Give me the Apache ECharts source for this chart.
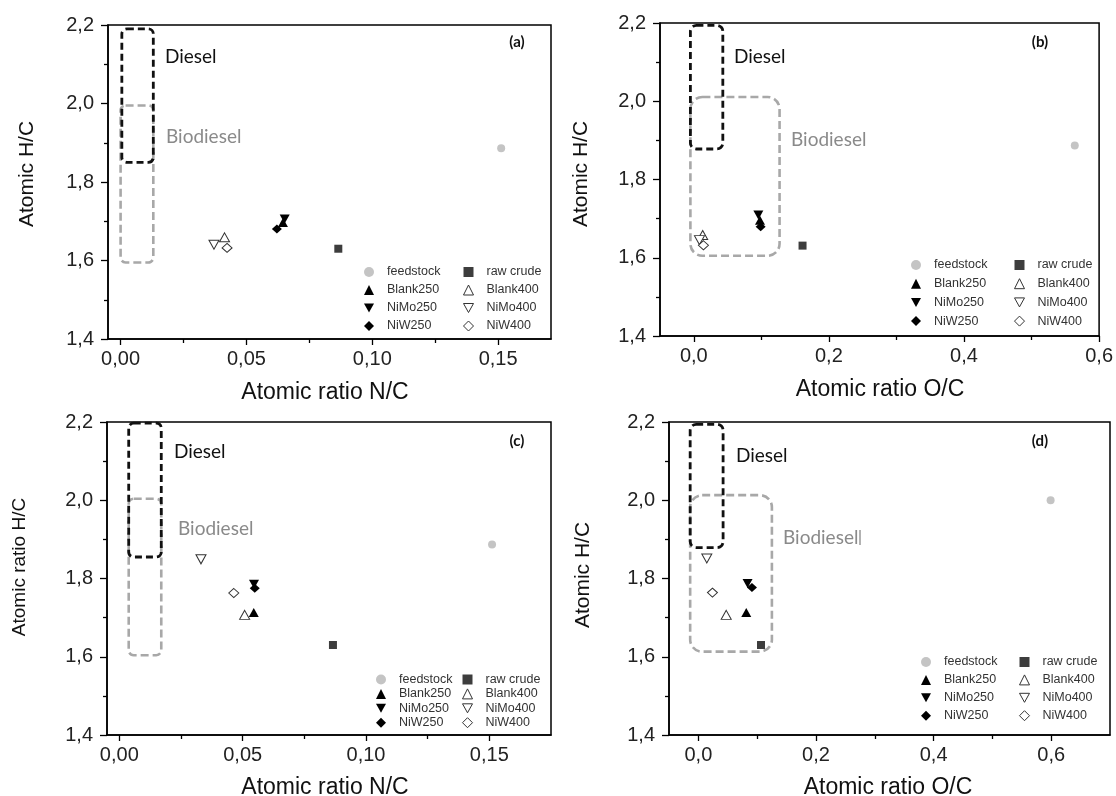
<!DOCTYPE html>
<html>
<head>
<meta charset="utf-8">
<script src="https://cdn.jsdelivr.net/npm/echarts@6/dist/echarts.min.js"></script>
<style>
  html, body { margin: 0; padding: 0; background: #fff; }
  #chart { width: 1116px; height: 796px; }
</style>
</head>
<body>
<div id="chart"></div>
<script>
// Sample order shared by every panel
const samples = ['feedstock', 'raw crude', 'Blank250', 'Blank400', 'NiMo250', 'NiMo400', 'NiW250', 'NiW400'];

// (a) atomic N/C vs H/C
const aNC = [0.1512, 0.0865, 0.0645, 0.0413, 0.0652, 0.0371, 0.0621, 0.0423];
const aHC = [1.886, 1.630, 1.697, 1.659, 1.706, 1.640, 1.680, 1.632];
// (b) atomic O/C vs H/C
const bOC = [0.564, 0.161, 0.098, 0.0132, 0.0956, 0.0084, 0.099, 0.0143];
const bHC = [1.887, 1.631, 1.696, 1.658, 1.709, 1.645, 1.679, 1.632];
// (c) atomic N/C vs H/C
const cNC = [0.1511, 0.0866, 0.0545, 0.0508, 0.0546, 0.0331, 0.0549, 0.0464];
const cHC = [1.887, 1.630, 1.713, 1.707, 1.785, 1.849, 1.775, 1.763];
// (d) atomic O/C vs H/C
const dOC = [0.599, 0.1065, 0.0814, 0.0473, 0.0836, 0.0143, 0.0911, 0.0239];
const dHC = [2.000, 1.630, 1.713, 1.707, 1.787, 1.851, 1.777, 1.764];

// Fuel regions: [ratio from, ratio to, H/C from, H/C to]
const dieselA = [0.0005, 0.013, 1.85, 2.19];
const biodieselA = [0.0, 0.013, 1.595, 1.995];
const dieselB = [-0.005, 0.043, 1.878, 2.194];
const biodieselB = [-0.005, 0.127, 1.605, 2.011];
const dieselC = [0.0038, 0.017, 1.855, 2.197];
const biodieselC = [0.0038, 0.017, 1.604, 2.004];
const dieselD = [-0.014, 0.042, 1.879, 2.194];
const biodieselD = [-0.014, 0.125, 1.613, 2.013];

// Axis ticks
const ncTicks = [0, 0.05, 0.10, 0.15];
const ncMinor = [0.025, 0.075, 0.125];
const ocTicks = [0, 0.2, 0.4, 0.6];
const ocMinor = [0.1, 0.3, 0.5];

const FONT = 'Liberation Sans, Arial, sans-serif';
const downTri = 'path://M0,0L10,0L5,9Z';

const markerStyle = {
  'feedstock': { symbol: 'circle', size: 8, color: '#c4c4c4' },
  'raw crude': { symbol: 'rect', size: 8, color: '#3d3d3d' },
  'Blank250': { symbol: 'triangle', size: [10, 9], color: '#000' },
  'Blank400': { symbol: 'triangle', size: [10, 9], color: '#fff', border: '#333' },
  'NiMo250': { symbol: downTri, size: [10, 9], color: '#000' },
  'NiMo400': { symbol: downTri, size: [10, 9], color: '#fff', border: '#333' },
  'NiW250': { symbol: 'diamond', size: [10, 9], color: '#000' },
  'NiW400': { symbol: 'diamond', size: [10, 9], color: '#fff', border: '#333' }
};

const panels = [
  { grid: { left: 108, top: 25, width: 443, height: 314 }, xMin: -0.005, xMax: 0.171,
    ticks: ncTicks, minor: ncMinor, dec: 2, xs: aNC, ys: aHC,
    diesel: dieselA, bio: biodieselA, rD: 5, rB: 5,
    legend: { left1: 364, left2: 463, top: 265, gap: 4, lh: 14 } },
  { grid: { left: 660, top: 23, width: 441, height: 313 }, xMin: -0.05, xMax: 0.6,
    ticks: ocTicks, minor: ocMinor, dec: 1, xs: bOC, ys: bHC,
    diesel: dieselB, bio: biodieselB, rD: 6, rB: 12,
    legend: { left1: 911, left2: 1014, top: 258, gap: 4.7, lh: 14 } },
  { grid: { left: 107, top: 422, width: 444, height: 313 }, xMin: -0.005, xMax: 0.175,
    ticks: ncTicks, minor: ncMinor, dec: 2, xs: cNC, ys: cHC,
    diesel: dieselC, bio: biodieselC, rD: 5, rB: 5,
    legend: { left1: 376, left2: 462, top: 673, gap: 1.4, lh: 12 } },
  { grid: { left: 669, top: 422, width: 441, height: 313 }, xMin: -0.05, xMax: 0.7,
    ticks: ocTicks, minor: ocMinor, dec: 1, xs: dOC, ys: dHC,
    diesel: dieselD, bio: biodieselD, rD: 6, rB: 12,
    legend: { left1: 921, left2: 1019, top: 655, gap: 3.9, lh: 14 } }
];

const grids = [], xAxes = [], yAxes = [], series = [], legends = [];

function boxSeries(name, box, xi, yi, stroke, width, dash, radius, z) {
  return {
    type: 'custom', name: name, xAxisIndex: xi, yAxisIndex: yi, silent: true, z: z,
    clip: false,
    encode: { x: [0, 1], y: [2, 3] },
    data: [box],
    renderItem: function (params, api) {
      const p0 = api.coord([api.value(0), api.value(3)]);
      const p1 = api.coord([api.value(1), api.value(2)]);
      return {
        type: 'rect',
        shape: { x: p0[0], y: p0[1], width: p1[0] - p0[0], height: p1[1] - p0[1], r: radius },
        style: { fill: null, stroke: stroke, lineWidth: width, lineDash: dash }
      };
    }
  };
}

function legendItem(name) {
  const m = markerStyle[name];
  return {
    name: name,
    icon: m.symbol,
    itemStyle: { color: m.color, borderColor: m.border || m.color, borderWidth: m.border ? 1 : 0 }
  };
}

panels.forEach(function (p, i) {
  grids.push(Object.assign({ show: true, borderColor: '#000', borderWidth: 1.5, containLabel: false }, p.grid));
  const fmt = function (v) { return v.toFixed(p.dec).replace('.', ','); };
  const tickLine = { color: '#000', width: 1.3 };
  // main x axis with labelled ticks
  xAxes.push({
    type: 'value', gridIndex: i, min: p.xMin, max: p.xMax, position: 'bottom',
    axisLine: { show: true, onZero: false, lineStyle: { color: '#000', width: 1.5 } },
    axisTick: { show: true, inside: false, length: 6, customValues: p.ticks, lineStyle: tickLine },
    axisLabel: { customValues: p.ticks, formatter: fmt, fontSize: 20, color: '#222', fontFamily: FONT, margin: 10 },
    splitLine: { show: false }
  });
  // companion x axis carrying the unlabelled minor ticks
  xAxes.push({
    type: 'value', gridIndex: i, min: p.xMin, max: p.xMax, position: 'bottom',
    axisLine: { show: false, onZero: false },
    axisTick: { show: true, inside: false, length: 4, customValues: p.minor, lineStyle: tickLine },
    axisLabel: { show: false },
    splitLine: { show: false }
  });
  yAxes.push({
    type: 'value', gridIndex: i, min: 1.4, max: 2.2, interval: 0.2,
    axisLine: { show: true, onZero: false, lineStyle: { color: '#000', width: 1.5 } },
    axisTick: { show: true, inside: false, length: 7, lineStyle: tickLine },
    minorTick: { show: true, splitNumber: 2, length: 4, lineStyle: tickLine },
    axisLabel: { formatter: function (v) { return v.toFixed(1).replace('.', ','); }, fontSize: 20, color: '#222', fontFamily: FONT, margin: 14 },
    splitLine: { show: false }, minorSplitLine: { show: false }
  });

  series.push(boxSeries('Biodiesel', p.bio, 2 * i, i, '#a8a8a8', 2.6, [8, 4], p.rB, 1));
  series.push(boxSeries('Diesel', p.diesel, 2 * i, i, '#111', 2.8, [7, 4], p.rD, 2));

  samples.forEach(function (name, k) {
    const m = markerStyle[name];
    series.push({
      type: 'scatter', name: name, xAxisIndex: 2 * i, yAxisIndex: i, z: 5, silent: true,
      symbol: m.symbol, symbolSize: m.size,
      itemStyle: { color: m.color, borderColor: m.border || m.color, borderWidth: m.border ? 1 : 0, opacity: 1 },
      data: [[p.xs[k], p.ys[k]]]
    });
  });

  const L = p.legend;
  const common = {
    orient: 'vertical', top: L.top, padding: 0, itemGap: L.gap, itemWidth: 10, itemHeight: 10,
    selectedMode: false,
    textStyle: { fontSize: 12.5, color: '#333', fontFamily: FONT, lineHeight: L.lh, padding: [0, 0, 0, 8] }
  };
  legends.push(Object.assign({ left: L.left1, data: [samples[0], samples[2], samples[4], samples[6]].map(legendItem) }, common));
  legends.push(Object.assign({ left: L.left2, data: [samples[1], samples[3], samples[5], samples[7]].map(legendItem) }, common));
});

function label(text, x, y, size, color, extra) {
  return {
    type: 'text', x: x, y: y, silent: true,
    style: Object.assign({ text: text, fontSize: size, fill: color, fontFamily: FONT, align: 'center', verticalAlign: 'middle' }, extra || {})
  };
}
function vlabel(text, x, y, size) {
  const t = label(text, x, y, size, '#111');
  t.rotation = Math.PI / 2;
  return t;
}
const hand = 'Lato, Carlito, Calibri, sans-serif';
const graphics = [
  // axis titles
  label('Atomic ratio N/C', 325, 393, 23, '#111'),
  label('Atomic ratio O/C', 880, 390, 23, '#111'),
  label('Atomic ratio N/C', 325, 788, 23, '#111'),
  label('Atomic ratio O/C', 888, 788, 23, '#111'),
  vlabel('Atomic H/C', 27, 174, 21),
  vlabel('Atomic H/C', 581, 174, 21),
  vlabel('Atomic ratio H/C', 20, 567, 19),
  vlabel('Atomic H/C', 583, 575, 21),
  // region names
  label('Diesel', 165, 57, 19, '#111', { align: 'left', fontFamily: hand }),
  label('Biodiesel', 166, 137, 19, '#8a8a8a', { align: 'left', fontFamily: hand }),
  label('Diesel', 734, 57, 19, '#111', { align: 'left', fontFamily: hand }),
  label('Biodiesel', 791, 140, 19, '#8a8a8a', { align: 'left', fontFamily: hand }),
  label('Diesel', 174, 452, 19, '#111', { align: 'left', fontFamily: hand }),
  label('Biodiesel', 178, 529, 19, '#8a8a8a', { align: 'left', fontFamily: hand }),
  label('Diesel', 736, 456, 19, '#111', { align: 'left', fontFamily: hand }),
  label('Biodiesel', 783, 538, 19, '#8a8a8a', { align: 'left', fontFamily: hand }),
  { type: 'line', silent: true, shape: { x1: 860, y1: 530, x2: 860, y2: 545 }, style: { stroke: '#999', lineWidth: 1.5 } },
  // panel letters
  label('(a)', 517, 42, 15, '#111', { fontFamily: hand, fontWeight: 'bold' }),
  label('(b)', 1040, 42, 15, '#111', { fontFamily: hand, fontWeight: 'bold' }),
  label('(c)', 517, 441, 15, '#111', { fontFamily: hand, fontWeight: 'bold' }),
  label('(d)', 1040, 441, 15, '#111', { fontFamily: hand, fontWeight: 'bold' })
];

const chart = echarts.init(document.getElementById('chart'), null, { renderer: 'canvas' });
chart.setOption({
  animation: false,
  backgroundColor: '#fff',
  grid: grids,
  xAxis: xAxes,
  yAxis: yAxes,
  legend: legends,
  series: series,
  graphic: graphics
});
</script>
</body>
</html>
